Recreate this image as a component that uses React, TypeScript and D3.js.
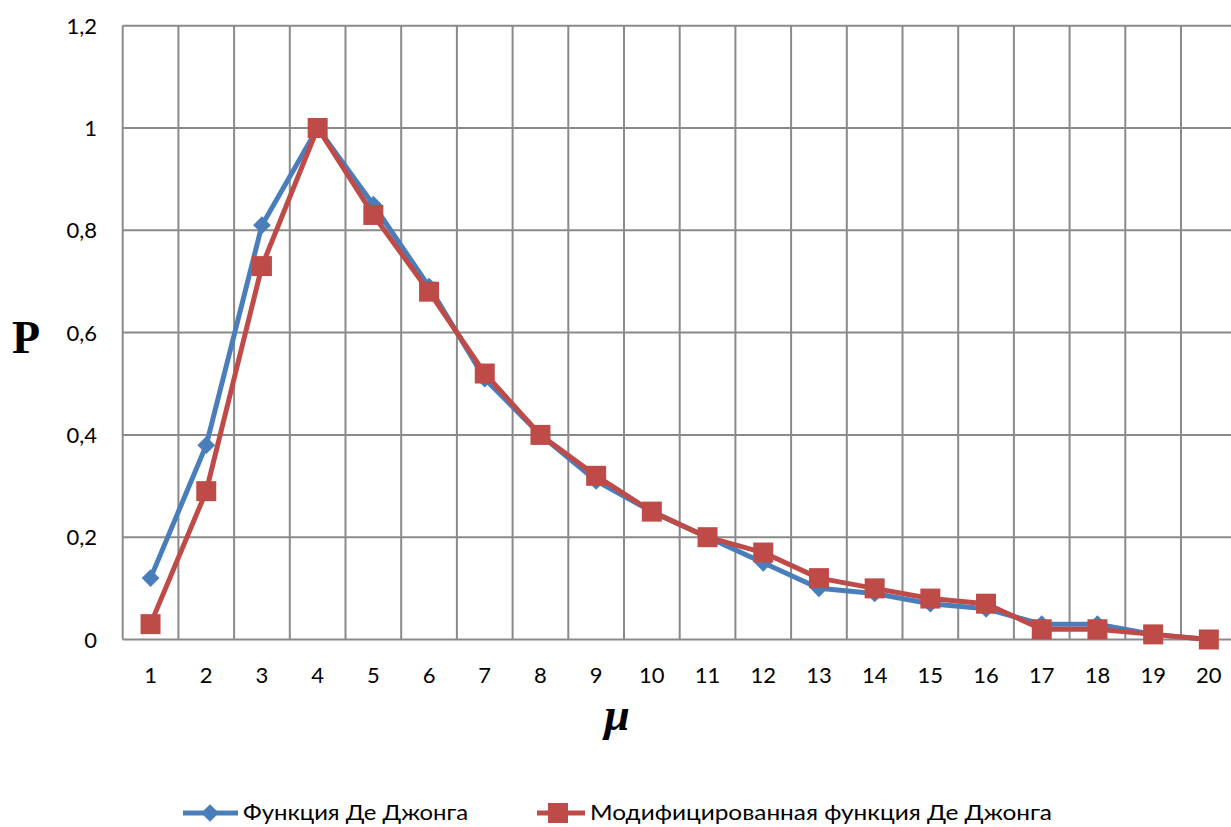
import React, { useEffect, useRef } from "react";
import * as d3 from "d3";

// μ values along the category axis
const categories: number[] = d3.range(1, 21);

// Probability for the De Jong function
const deJong: number[] = [
  0.12, 0.38, 0.81, 1.0, 0.85, 0.69, 0.51, 0.4, 0.31, 0.25,
  0.2, 0.15, 0.1, 0.09, 0.07, 0.06, 0.03, 0.03, 0.01, 0.0,
];

// Probability for the modified De Jong function
const deJongModified: number[] = [
  0.03, 0.29, 0.73, 1.0, 0.83, 0.68, 0.52, 0.4, 0.32, 0.25,
  0.2, 0.17, 0.12, 0.1, 0.08, 0.07, 0.02, 0.02, 0.01, 0.0,
];

const yTicks: number[] = [0, 0.2, 0.4, 0.6, 0.8, 1.0, 1.2];

const seriesNames: string[] = [
  "Функция Де Джонга",
  "Модифицированная функция Де Джонга",
];

const W = 1231;
const H = 827;
const BLUE = "#4a7ebb";
const RED = "#be4b48";
const GRID = "#8a8a8a";
const FONT = "Lato, 'Open Sans', sans-serif";

export default function App() {
  const ref = useRef<SVGSVGElement | null>(null);

  useEffect(() => {
    const svg = d3.select(ref.current);
    svg.selectAll("*").remove();

    const left = 122.7;
    const band = 55.7;
    const right = left + band * categories.length;
    const top = 25.7;
    const bottom = 639.5;

    const x = d3
      .scaleBand<number>()
      .domain(categories)
      .range([left, right])
      .paddingInner(0)
      .paddingOuter(0);
    const y = d3.scaleLinear().domain([0, 1.2]).range([bottom, top]);
    const cx = (c: number) => (x(c) as number) + x.bandwidth() / 2;

    const fmt = (v: number) => d3.format(".1~f")(v).replace(".", ",");

    // grid
    const grid = svg.append("g");
    yTicks.forEach((t) => {
      grid
        .append("line")
        .attr("x1", left)
        .attr("x2", right)
        .attr("y1", y(t))
        .attr("y2", y(t))
        .attr("stroke", GRID)
        .attr("stroke-width", 2);
    });
    [...categories.map((c) => x(c) as number), right].forEach((xv) => {
      grid
        .append("line")
        .attr("x1", xv)
        .attr("x2", xv)
        .attr("y1", top)
        .attr("y2", bottom)
        .attr("stroke", GRID)
        .attr("stroke-width", 2);
    });

    // y tick labels
    svg
      .append("g")
      .selectAll("text")
      .data(yTicks)
      .join("text")
      .attr("x", 97)
      .attr("y", (d) => y(d) + 8)
      .attr("text-anchor", "end")
      .attr("font-family", FONT)
      .attr("font-size", 22)
      .attr("fill", "#000")
      .text((d) => fmt(d));

    // x tick labels
    svg
      .append("g")
      .selectAll("text")
      .data(categories)
      .join("text")
      .attr("x", (d) => cx(d))
      .attr("y", 683)
      .attr("text-anchor", "middle")
      .attr("font-family", FONT)
      .attr("font-size", 22)
      .attr("fill", "#000")
      .text((d) => String(d));

    // axis titles
    svg
      .append("text")
      .attr("x", 12)
      .attr("y", 353)
      .attr("font-family", "'Liberation Serif', serif")
      .attr("font-weight", "bold")
      .attr("font-size", 46)
      .text("P");
    svg
      .append("text")
      .attr("x", 617)
      .attr("y", 730)
      .attr("text-anchor", "middle")
      .attr("font-family", "'Liberation Serif', serif")
      .attr("font-weight", "bold")
      .attr("font-style", "italic")
      .attr("font-size", 46)
      .text("μ");

    const line = d3
      .line<number>()
      .x((_, i) => cx(categories[i]))
      .y((d) => y(d));

    const diamond = d3.symbol().type(d3.symbolDiamond2).size(200);
    const square = d3.symbol().type(d3.symbolSquare).size(400);

    // De Jong series
    const gBlue = svg.append("g");
    gBlue
      .append("path")
      .attr("d", line(deJong))
      .attr("fill", "none")
      .attr("stroke", BLUE)
      .attr("stroke-width", 5)
      .attr("stroke-linejoin", "round");
    gBlue
      .selectAll("path.m")
      .data(deJong)
      .join("path")
      .attr("class", "m")
      .attr("d", diamond() as string)
      .attr("transform", (d, i) => `translate(${cx(categories[i])},${y(d)})`)
      .attr("fill", BLUE);

    // modified De Jong series
    const gRed = svg.append("g");
    gRed
      .append("path")
      .attr("d", line(deJongModified))
      .attr("fill", "none")
      .attr("stroke", RED)
      .attr("stroke-width", 5)
      .attr("stroke-linejoin", "round");
    gRed
      .selectAll("path.m")
      .data(deJongModified)
      .join("path")
      .attr("class", "m")
      .attr("d", square() as string)
      .attr("transform", (d, i) => `translate(${cx(categories[i])},${y(d)})`)
      .attr("fill", RED);

    // legend
    const legend = svg.append("g");
    const ly = 813;
    legend
      .append("line")
      .attr("x1", 183)
      .attr("x2", 238)
      .attr("y1", ly)
      .attr("y2", ly)
      .attr("stroke", BLUE)
      .attr("stroke-width", 5);
    legend
      .append("path")
      .attr("d", diamond() as string)
      .attr("transform", `translate(210,${ly})`)
      .attr("fill", BLUE);
    legend
      .append("text")
      .attr("x", 243)
      .attr("y", ly + 7)
      .attr("font-family", FONT)
      .attr("font-size", 21)
      .attr("textLength", 225)
      .attr("lengthAdjust", "spacingAndGlyphs")
      .text(seriesNames[0]);

    legend
      .append("line")
      .attr("x1", 537)
      .attr("x2", 585)
      .attr("y1", ly)
      .attr("y2", ly)
      .attr("stroke", RED)
      .attr("stroke-width", 5);
    legend
      .append("path")
      .attr("d", square() as string)
      .attr("transform", `translate(558,${ly})`)
      .attr("fill", RED);
    legend
      .append("text")
      .attr("x", 590)
      .attr("y", ly + 7)
      .attr("font-family", FONT)
      .attr("font-size", 21)
      .attr("textLength", 462)
      .attr("lengthAdjust", "spacingAndGlyphs")
      .text(seriesNames[1]);
  }, []);

  return (
    <svg
      ref={ref}
      width={W}
      height={H}
      style={{ position: "absolute", left: 0, top: 0, background: "#fff" }}
    />
  );
}
